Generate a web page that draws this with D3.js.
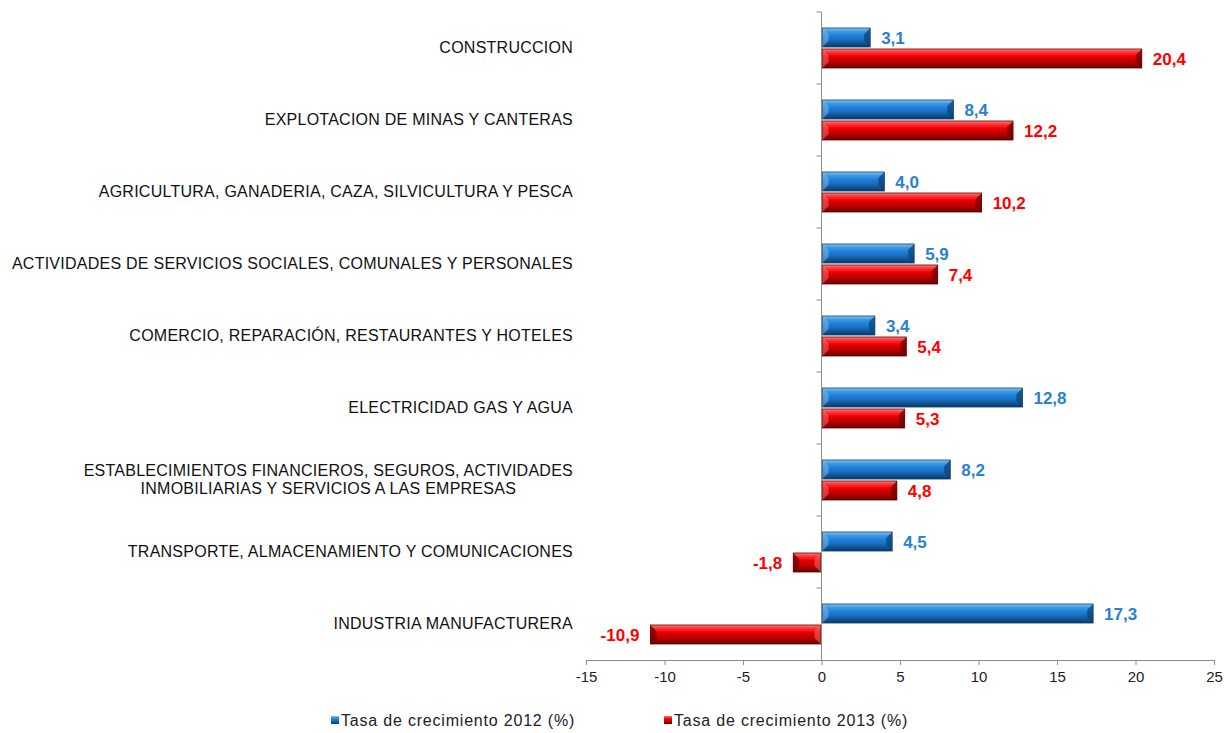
<!DOCTYPE html>
<html>
<head>
<meta charset="utf-8">
<script src="https://cdn.jsdelivr.net/npm/d3@7"></script>
<style>
  body { margin: 0; background: #fff; }
  text { font-family: "Liberation Sans", Arial, sans-serif; }
</style>
</head>
<body>
<div id="chart"></div>
<script>
// categories, top to bottom
var categories = [
    "CONSTRUCCION",
    "EXPLOTACION DE MINAS Y CANTERAS",
    "AGRICULTURA, GANADERIA, CAZA, SILVICULTURA Y PESCA",
    "ACTIVIDADES DE SERVICIOS SOCIALES, COMUNALES Y PERSONALES",
    "COMERCIO, REPARACIÓN, RESTAURANTES Y HOTELES",
    "ELECTRICIDAD GAS Y AGUA",
    "ESTABLECIMIENTOS FINANCIEROS, SEGUROS, ACTIVIDADES|INMOBILIARIAS Y SERVICIOS A LAS EMPRESAS",
    "TRANSPORTE, ALMACENAMIENTO Y COMUNICACIONES",
    "INDUSTRIA MANUFACTURERA"
]
var values2012 = [3.1, 8.4, 4.0, 5.9, 3.4, 12.8, 8.2, 4.5, 17.3]
var values2013 = [20.4, 12.2, 10.2, 7.4, 5.4, 5.3, 4.8, -1.8, -10.9]
var seriesNames = ["Tasa de crecimiento 2012 (%)", "Tasa de crecimiento 2013 (%)"]
var xTicks = [-15, -10, -5, 0, 5, 10, 15, 20, 25]

var width = 1225, height = 733
var margin = { left: 586, right: 11, top: 12, bottom: 73 }
var innerW = width - margin.left - margin.right
var innerH = height - margin.top - margin.bottom

var svg = d3.select("#chart").append("svg")
    .attr("width", width)
    .attr("height", height)

// gradients for the bevelled bars
var defs = svg.append("defs")
var palettes = [
    { id: "gBlue", stops: ["#8cc8f4", "#3c9ae6", "#1f7fd6", "#1a6fbf", "#0f4e8c", "#0b3a6a"] },
    { id: "gRed",  stops: ["#ff8080", "#ff3030", "#e80000", "#cc0000", "#900000", "#6a0000"] }
]
palettes.forEach(function(p) {
    var lg = defs.append("linearGradient")
        .attr("id", p.id)
        .attr("x1", 0).attr("y1", 0).attr("x2", 0).attr("y2", 1)
    var offs = [0, 0.18, 0.4, 0.6, 0.85, 1]
    p.stops.forEach(function(c, i) {
        lg.append("stop").attr("offset", offs[i]).attr("stop-color", c)
    })
})

var g = svg.append("g")
    .attr("transform", "translate(" + margin.left + "," + margin.top + ")")

var x = d3.scaleLinear().domain([-15, 25]).range([0, innerW])
var y0 = d3.scaleBand().domain(d3.range(categories.length)).range([0, innerH]).paddingInner(0).paddingOuter(0)
var barH = 19, gap = 2
var barTop = (y0.bandwidth() - (2 * barH + gap)) / 2

var fmtComma = function(v) { return d3.format(".1f")(v).replace(".", ",").replace("\u2212", "-") }

var rows = []
categories.forEach(function(c, i) {
    rows.push({ i: i, s: 0, v: values2012[i] })
    rows.push({ i: i, s: 1, v: values2013[i] })
})

// x axis
var xAxis = g.append("g")
    .attr("transform", "translate(0," + innerH + ")")
    .call(d3.axisBottom(x).tickValues(xTicks).tickSize(5).tickSizeOuter(0)
        .tickFormat(function(d) { return String(d) }))
xAxis.select(".domain").attr("stroke", "#8c8c8c")
xAxis.selectAll(".tick line").attr("stroke", "#8c8c8c")
xAxis.selectAll(".tick text")
    .attr("dy", "0.95em")
    .style("font-size", "15px")
    .style("font-family", "Liberation Sans, Arial, sans-serif")
    .attr("fill", "#222")

// bars
var bars = g.selectAll(".bar")
    .data(rows)
    .join("g")
    .attr("class", "bar")
    .attr("transform", function(d) {
        return "translate(0," + (y0(d.i) + barTop + d.s * (barH + gap)) + ")"
    })

bars.append("rect")
    .attr("x", function(d) { return x(Math.min(0, d.v)) + (d.v >= 0 ? 1 : 0) })
    .attr("width", function(d) { return Math.abs(x(d.v) - x(0)) - 1 })
    .attr("height", barH)
    .attr("fill", function(d) { return d.s == 0 ? "url(#gBlue)" : "url(#gRed)" })
    .attr("stroke", function(d) { return d.s == 0 ? "#0b3a6a" : "#5a0000" })
    .attr("stroke-width", 0.8)

// bevel cap at the far end of each bar
bars.append("path")
    .attr("d", function(d) {
        var e = x(d.v), b = 6
        var dir = d.v >= 0 ? -1 : 1
        return "M" + e + ",0 L" + (e + dir * b) + "," + b + " L" + (e + dir * b) + "," + (barH - b) +
            " L" + e + "," + barH + " Z"
    })
    .attr("fill", function(d) { return d.s == 0 ? "#0d4478" : "#700000" })
    .attr("opacity", 0.75)

// bevel cap at the zero side
bars.append("path")
    .attr("d", function(d) {
        var e = x(0) + (d.v >= 0 ? 1 : -1), b = 6
        var dir = d.v >= 0 ? 1 : -1
        return "M" + e + ",0 L" + (e + dir * b) + "," + b + " L" + (e + dir * b) + "," + (barH - b) +
            " L" + e + "," + barH + " Z"
    })
    .attr("fill", function(d) { return d.s == 0 ? "#7fc0f0" : "#ff7070" })
    .attr("opacity", 0.5)

// value labels
bars.append("text")
    .attr("x", function(d) { return d.v >= 0 ? x(d.v) + 11 : x(d.v) - 11 })
    .attr("y", barH / 2)
    .attr("dy", "0.36em")
    .attr("text-anchor", function(d) { return d.v >= 0 ? "start" : "end" })
    .style("font-size", "17px")
    .style("font-weight", "bold")
    .attr("fill", function(d) { return d.s == 0 ? "#2a80d0" : "#ff0000" })
    .text(function(d) { return fmtComma(d.v) })

// y axis line with ticks on the left
g.append("line")
    .attr("x1", x(0)).attr("x2", x(0))
    .attr("y1", 0).attr("y2", innerH)
    .attr("stroke", "#8c8c8c")
g.selectAll(".ytick")
    .data(d3.range(categories.length))
    .join("line")
    .attr("class", "ytick")
    .attr("x1", x(0) - 5).attr("x2", x(0))
    .attr("y1", function(d) { return y0(d) }).attr("y2", function(d) { return y0(d) })
    .attr("stroke", "#8c8c8c")

// category labels
var labelRight = 573
var labels = svg.selectAll(".cat")
    .data(categories)
    .join("text")
    .attr("class", "cat")
    .style("font-size", "16px")
    .style("letter-spacing", "0.25px")
    .attr("fill", "#111")
labels.each(function(d, i) {
    var lines = d.split("|")
    var cy = margin.top + y0(i) + y0.bandwidth() / 2 - 1
    var t = d3.select(this)
    lines.forEach(function(l, k) {
        t.append("tspan")
            .attr("x", labelRight)
            .attr("y", cy + (k - (lines.length - 1) / 2) * 18)
            .attr("dy", "0.35em")
            .attr("text-anchor", "end")
            .text(l)
    })
})
// second line of the two-line label is centred under the first
labels.filter(function(d) { return d.indexOf("|") >= 0 }).each(function() {
    var spans = d3.select(this).selectAll("tspan").nodes()
    var w0 = spans[0].getComputedTextLength()
    spans.forEach(function(s) {
        d3.select(s).attr("x", labelRight - w0 / 2).attr("text-anchor", "middle")
    })
})

// legend
var legendX = [331, 664]
var legend = svg.selectAll(".legend")
    .data(seriesNames)
    .join("g")
    .attr("class", "legend")
    .attr("transform", function(d, i) { return "translate(" + legendX[i] + "," + 720 + ")" })
legend.append("rect")
    .attr("x", 0).attr("y", -4)
    .attr("width", 8).attr("height", 8)
    .attr("fill", function(d, i) { return i == 0 ? "url(#gBlue)" : "url(#gRed)" })
legend.append("text")
    .attr("x", 10).attr("y", 0)
    .attr("dy", "0.35em")
    .style("font-size", "16px")
    .style("letter-spacing", "0.8px")
    .attr("fill", "#222")
    .text(function(d) { return d })
</script>
</body>
</html>
